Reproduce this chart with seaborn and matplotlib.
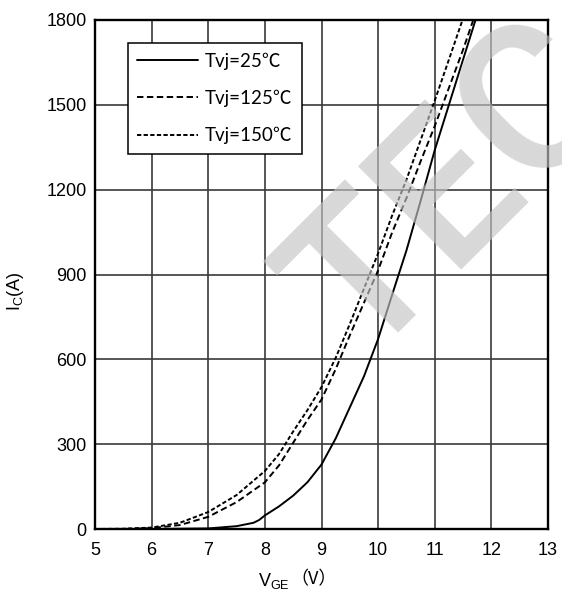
import numpy as np
import pandas as pd
import matplotlib
matplotlib.use("Agg")
import matplotlib.pyplot as plt
import seaborn as sns

# Transfer characteristic I_C = f(V_GE) at three junction temperatures
vge_25 = [5.0, 6.0, 7.0, 7.5, 7.8, 7.9, 8.0, 8.25, 8.5, 8.75, 9.0, 9.25, 9.5,
          9.75, 10.0, 10.25, 10.5, 10.75, 11.0, 11.25, 11.5, 11.72]
ic_25 = [0, 0, 2, 10, 22, 32, 48, 80, 118, 165, 228, 320, 430,
         540, 672, 830, 985, 1160, 1340, 1500, 1660, 1800]

vge_125 = [5.0, 5.5, 6.0, 6.5, 7.0, 7.5, 8.0, 8.25, 8.5, 8.75, 9.0, 9.25, 9.5,
           9.75, 10.0, 10.25, 10.5, 10.75, 11.0, 11.25, 11.5, 11.68]
ic_125 = [0, 0, 3, 14, 43, 95, 165, 225, 305, 385, 458, 565, 685,
          800, 915, 1050, 1170, 1300, 1425, 1560, 1695, 1800]

vge_150 = [5.0, 5.5, 6.0, 6.5, 7.0, 7.5, 8.0, 8.25, 8.5, 8.75, 9.0, 9.25, 9.5,
           9.75, 10.0, 10.25, 10.5, 10.75, 11.0, 11.25, 11.49]
ic_150 = [0, 1, 5, 22, 60, 120, 205, 265, 345, 420, 502, 605, 725,
          850, 975, 1110, 1235, 1375, 1515, 1660, 1800]

temp_labels = ["Tvj=25℃", "Tvj=125℃", "Tvj=150℃"]
x_ticks = [5, 6, 7, 8, 9, 10, 11, 12, 13]
y_ticks = [0, 300, 600, 900, 1200, 1500, 1800]

df = pd.concat([
    pd.DataFrame({"VGE": vge_25, "IC": ic_25, "T": temp_labels[0]}),
    pd.DataFrame({"VGE": vge_125, "IC": ic_125, "T": temp_labels[1]}),
    pd.DataFrame({"VGE": vge_150, "IC": ic_150, "T": temp_labels[2]}),
], ignore_index=True)

sns.set_theme(style="white")
plt.rcParams["font.family"] = ["Liberation Sans", "Noto Sans CJK SC", "DejaVu Sans"]
plt.rcParams["mathtext.fontset"] = "custom"
plt.rcParams["mathtext.rm"] = "Liberation Sans"
plt.rcParams["mathtext.it"] = "Liberation Sans"
plt.rcParams["text.color"] = "black"
plt.rcParams["axes.labelcolor"] = "black"
plt.rcParams["xtick.color"] = "black"
plt.rcParams["ytick.color"] = "black"

W, H = 562, 601
fig = plt.figure(figsize=(W / 100, H / 100), dpi=100)
ax = fig.add_axes([95 / W, 1 - 529 / H, 453 / W, 509 / H])

sns.lineplot(
    data=df, x="VGE", y="IC", hue="T", style="T",
    palette=["black"] * 3,
    dashes={temp_labels[0]: "", temp_labels[1]: (3.3, 1.8), temp_labels[2]: (2.2, 1.2)},
    sort=False, estimator=None, linewidth=1.4, ax=ax,
)

ax.set_xlim(5, 13)
ax.set_ylim(0, 1800)
ax.set_xticks(x_ticks)
ax.set_yticks(y_ticks)
ax.set_xticklabels([str(t) for t in x_ticks])
ax.set_yticklabels([str(t) for t in y_ticks])
ax.grid(True, color="#3a3a3a", linewidth=1.2)
ax.set_axisbelow(True)
for s in ax.spines.values():
    s.set_color("black")
    s.set_linewidth(1.7)
ax.tick_params(axis="both", length=0, labelsize=13, labelcolor="black")
ax.tick_params(axis="x", pad=9.5)
ax.tick_params(axis="y", pad=6)
ax.set_xlabel("")
ax.set_ylabel("")

handles, labs = ax.get_legend_handles_labels()
leg = ax.legend(
    handles, labs, loc="upper left", bbox_to_anchor=(0.0728, 0.955),
    borderaxespad=0, frameon=True, fancybox=False, framealpha=1,
    edgecolor="black", facecolor="white",
    prop={"family": ["Lato", "Noto Sans CJK SC"], "size": 13.5},
    handlelength=3.25, handletextpad=0.35, labelspacing=1.07,
    borderpad=0.5,
)
leg.get_frame().set_linewidth(1.1)
for ln in leg.get_lines():
    ln.set_linewidth(1.4)

# Axis titles
fig.text(16 / W, 1 - 291 / H, r"$\mathregular{I_C}$(A)", rotation=90,
         ha="center", va="center", fontsize=13)
xl = fig.text(258 / W, 1 - 581 / H, r"$\mathregular{V_{GE}}$", ha="left",
              va="center", fontsize=13)
fig.canvas.draw()
bb = xl.get_window_extent()
fig.text((bb.x1 + 1) / W, 1 - 579 / H, "（V）", ha="left", va="center",
         fontsize=13, family=["Noto Sans CJK SC"])

# Watermark
fig.text(455 / W, 1 - 192 / H, "TEC", fontsize=148, fontweight="medium",
         rotation=45, rotation_mode="anchor", ha="center", va="center",
         color="#c4c4c4", alpha=0.65, zorder=10, family="Roboto")

fig.savefig("out.png", dpi=100)
